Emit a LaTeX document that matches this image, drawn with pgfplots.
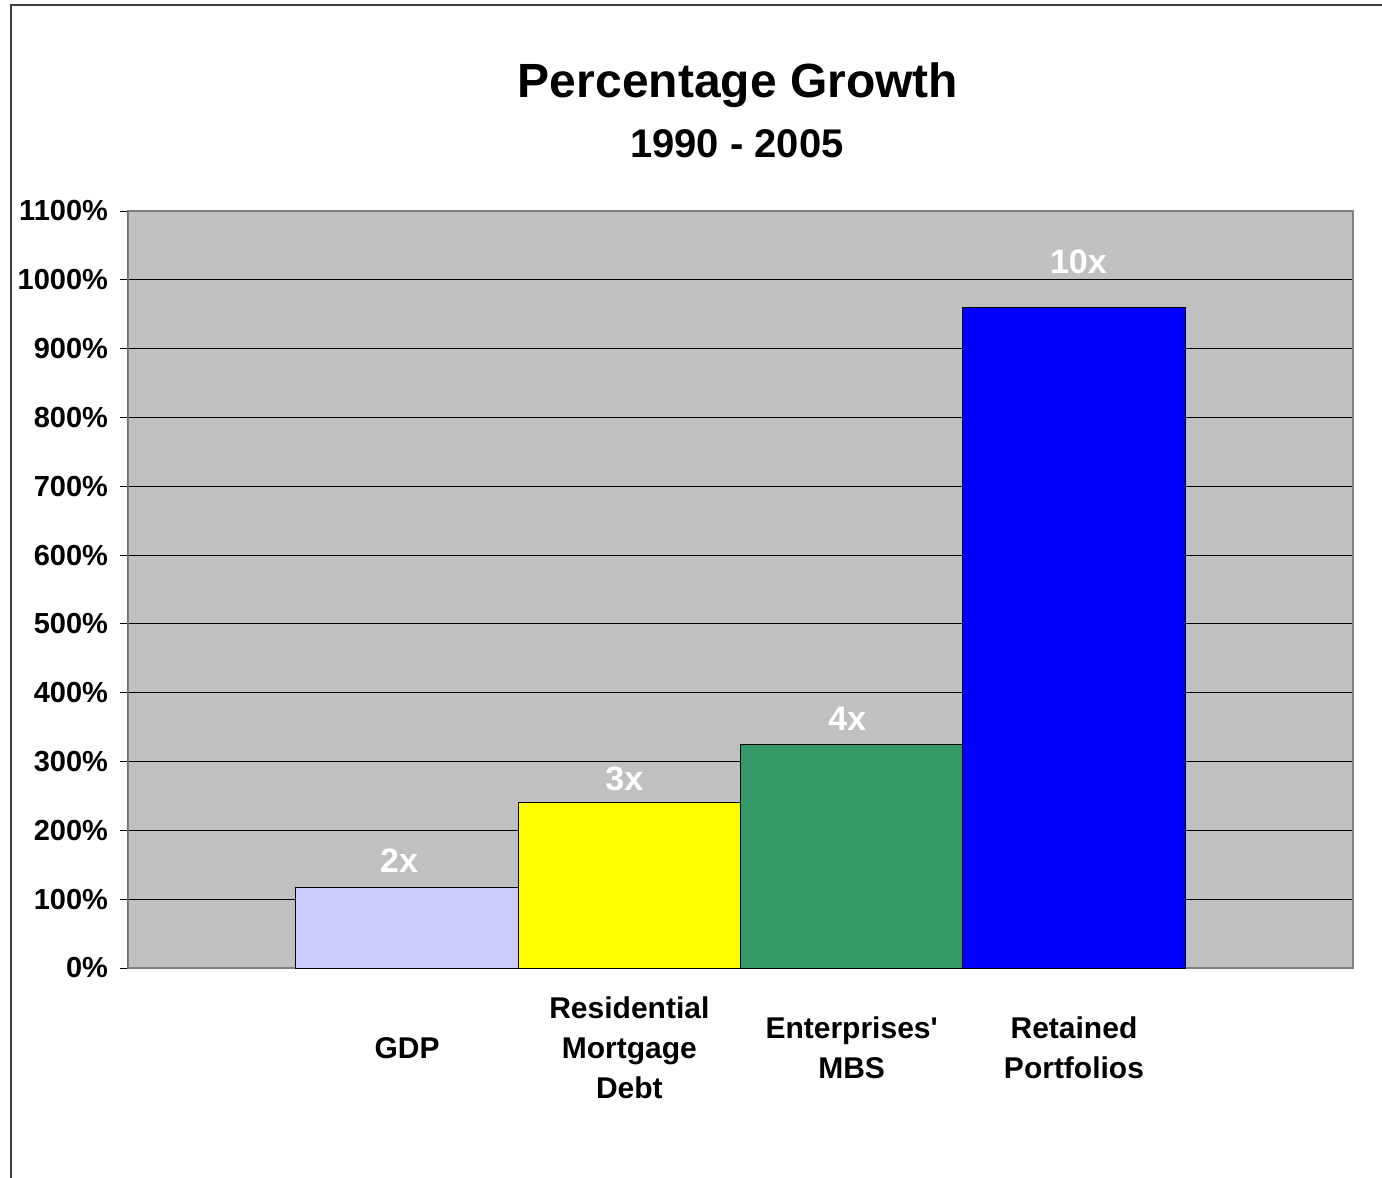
\documentclass[border=0pt]{standalone}
\usepackage{fontspec}
\setmainfont{Liberation Sans}
\usepackage{pgfplots}
\pgfplotsset{compat=1.18}
\begin{document}
\begin{tikzpicture}
\useasboundingbox (0,0) rectangle (691pt,-589pt);
\draw[line width=1pt, black!75] (5.5pt,-589pt) -- (5.5pt,-2.5pt) -- (691pt,-2.5pt);
\node[anchor=base, font=\fontsize{24}{28}\selectfont\bfseries, inner sep=0pt] at (369pt,-48.5pt) {Percentage Growth};
\node[anchor=base, font=\fontsize{20}{24}\selectfont\bfseries, inner sep=0pt] at (368.5pt,-78.5pt) {1990 - 2005};
\begin{axis}[
  at={(64pt,-484pt)}, anchor=south west, scale only axis,
  width=612.5pt, height=378.5pt,
  xmin=-1.255, xmax=4.255, ymin=0, ymax=1100,
  axis background/.style={fill={rgb,255:red,192;green,192;blue,192}},
  axis line style={draw=black!50, line width=0.75pt},
  ytick={0,100,...,1100},
  ytick pos=left,
  /pgf/number format/.cd, assume math mode=true, 1000 sep={},
  /pgfplots/.cd,
  yticklabel={\pgfmathprintnumber{\tick}\%},
  ymajorgrids, major grid style={black, line width=0.5pt},
  tick align=outside, major tick length=4pt,
  ytick style={black, line width=0.5pt},
  xtick={0,1,2,3},
  xticklabels={GDP, Residential\\Mortgage\\Debt, Enterprises\textquotesingle\\MBS, Retained\\Portfolios},
  xtick style={draw=none},
  xticklabel style={anchor=center, yshift=-36pt, align=center, font=\fontsize{15}{20}\selectfont\bfseries},
  yticklabel style={font=\fontsize{14.5}{17}\selectfont\bfseries, xshift=-2.5pt},
  every node near coord/.append style={anchor=center, text=white, font=\fontsize{17}{20}\selectfont\bfseries},
]
\draw[black, line width=0.5pt] (rel axis cs:0,0) -- (rel axis cs:0,1);
\addplot[ybar, bar width=1, bar shift=0pt, draw=black, line width=0.5pt,
  fill={rgb,255:red,204;green,204;blue,255},
  nodes near coords={2x}, nodes near coords style={yshift=13.2pt, xshift=-4pt}] coordinates {(0,117)};
\addplot[ybar, bar width=1, bar shift=0pt, draw=black, line width=0.5pt,
  fill={rgb,255:red,255;green,255;blue,0},
  nodes near coords={3x}, nodes near coords style={yshift=12pt, xshift=-2.5pt}] coordinates {(1,240)};
\addplot[ybar, bar width=1, bar shift=0pt, draw=black, line width=0.5pt,
  fill={rgb,255:red,51;green,153;blue,102},
  nodes near coords={4x}, nodes near coords style={yshift=13pt, xshift=-2.2pt}] coordinates {(2,325)};
\addplot[ybar, bar width=1, bar shift=0pt, draw=black, line width=0.5pt,
  fill={rgb,255:red,0;green,0;blue,255},
  nodes near coords={10x}, nodes near coords style={yshift=23pt, xshift=2.2pt}] coordinates {(3,960)};
\end{axis}
\end{tikzpicture}
\end{document}
